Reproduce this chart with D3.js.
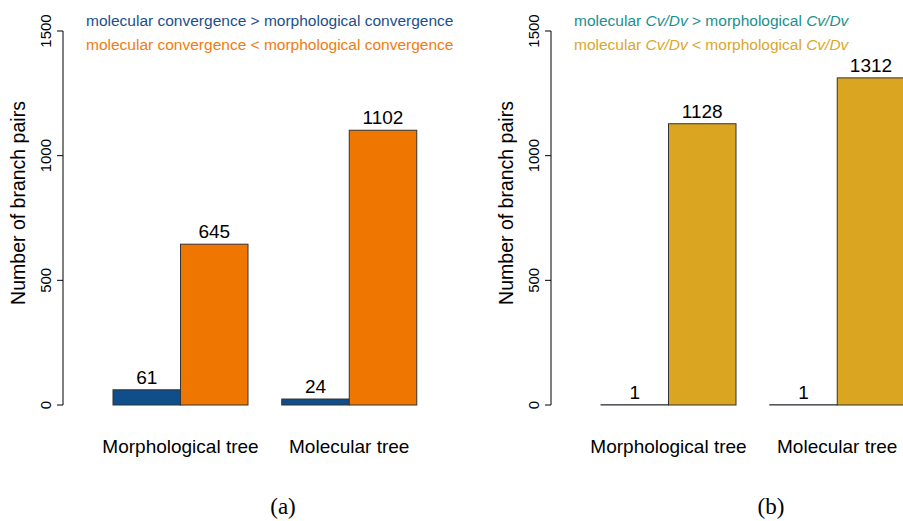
<!DOCTYPE html>
<html>
<head>
<meta charset="utf-8">
<script src="https://cdn.jsdelivr.net/npm/d3@7"></script>
<style>
  body { margin: 0; background: #fff; }
  text { font-family: "Liberation Sans", Arial, sans-serif; }
  text.caption { font-family: "Liberation Serif", "DejaVu Serif", serif; }
</style>
</head>
<body>
<svg id="chart" width="903" height="521"></svg>
<script>
// data
const trees = ["Morphological tree", "Molecular tree"];
const convGreater = [61, 24];      // molecular convergence > morphological
const convLess = [645, 1102];      // molecular convergence < morphological
const cvGreater = [1, 1];          // molecular Cv/Dv > morphological
const cvLess = [1128, 1312];       // molecular Cv/Dv < morphological
const yTicks = [0, 500, 1000, 1500];

const svg = d3.select("#chart");

const panels = [
  {
    offset: 0, caption: "(a)",
    series: [convGreater, convLess],
    colors: ["#0f4d8b", "#ef7600"],
    legend: [
      [["molecular convergence > morphological convergence", false]],
      [["molecular convergence < morphological convergence", false]]
    ],
    legendColors: ["#1a4f8c", "#f07c10"]
  },
  {
    offset: 488, caption: "(b)",
    series: [cvGreater, cvLess],
    colors: ["#0f4d8b", "#daa520"],
    legend: [
      [["molecular ", false], ["Cv/Dv", true], [" > morphological ", false], ["Cv/Dv", true]],
      [["molecular ", false], ["Cv/Dv", true], [" < morphological ", false], ["Cv/Dv", true]]
    ],
    legendColors: ["#1a9090", "#dba62a"]
  }
];

panels.forEach(p => drawPanel(p));

function drawPanel(p) {
  const g = svg.append("g").attr("transform", `translate(${p.offset},0)`);

  const y = d3.scaleLinear().domain([0, 1500]).range([405, 31]);
  // bar units: width 1, gap 0.5 between groups
  const x = d3.scaleLinear().domain([0, 4.5]).range([113, 416.75]);

  // axis (R style: line only between first and last tick)
  const axis = g.append("g");
  axis.append("line")
    .attr("x1", 63).attr("x2", 63)
    .attr("y1", y(0)).attr("y2", y(1500))
    .attr("stroke", "#000");
  axis.selectAll(".tick").data(yTicks).enter().append("line")
    .attr("x1", 57).attr("x2", 63)
    .attr("y1", d => y(d)).attr("y2", d => y(d))
    .attr("stroke", "#000");
  axis.selectAll(".tlab").data(yTicks).enter().append("text")
    .attr("transform", d => `translate(51,${y(d)}) rotate(-90)`)
    .attr("text-anchor", "middle")
    .attr("font-size", 15)
    .text(d => d);

  g.append("text")
    .attr("transform", `translate(25,203) rotate(-90)`)
    .attr("text-anchor", "middle")
    .attr("font-size", 19.5)
    .text("Number of branch pairs");

  const bars = [];
  trees.forEach((t, i) => {
    p.series.forEach((s, j) => {
      bars.push({ pos: i * 2.5 + j, value: s[i], color: p.colors[j] });
    });
  });

  g.selectAll(".bar").data(bars).enter().append("rect")
    .attr("x", d => x(d.pos))
    .attr("width", x(1) - x(0))
    .attr("y", d => y(d.value))
    .attr("height", d => y(0) - y(d.value))
    .attr("fill", d => d.color)
    .attr("stroke", "#333")
    .attr("stroke-width", 1);

  g.selectAll(".vlab").data(bars).enter().append("text")
    .attr("x", d => x(d.pos + 0.5))
    .attr("y", d => y(d.value) - 6)
    .attr("text-anchor", "middle")
    .attr("font-size", 19)
    .text(d => d.value);

  g.selectAll(".cat").data(trees).enter().append("text")
    .attr("x", (d, i) => x(i * 2.5 + 1))
    .attr("y", 453)
    .attr("text-anchor", "middle")
    .attr("font-size", 19)
    .text(d => d);

  // legend
  p.legend.forEach((parts, k) => {
    const t = g.append("text")
      .attr("x", 86)
      .attr("y", 26 + k * 24)
      .attr("font-size", 15.5)
      .attr("fill", p.legendColors[k]);
    parts.forEach(([s, it]) => {
      t.append("tspan").attr("font-style", it ? "italic" : null).text(s);
    });
  });

  g.append("text")
    .attr("class", "caption")
    .attr("x", 283)
    .attr("y", 514)
    .attr("text-anchor", "middle")
    .attr("font-size", 23)
    .text(p.caption);
}
</script>
</body>
</html>
